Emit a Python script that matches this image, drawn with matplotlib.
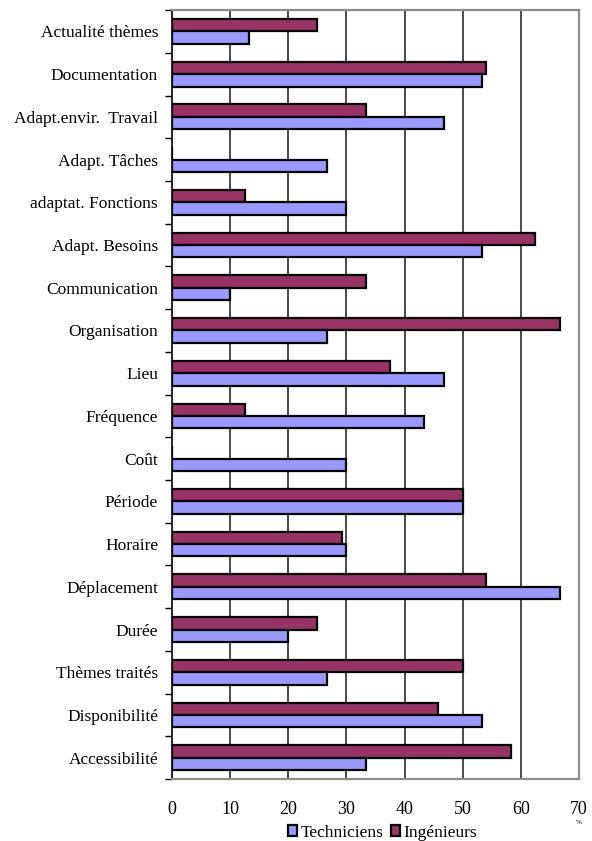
import numpy as np
import matplotlib.pyplot as plt
from matplotlib.patches import Patch

categories = [
    "Actualité thèmes", "Documentation", "Adapt.envir.  Travail", "Adapt. Tâches",
    "adaptat. Fonctions", "Adapt. Besoins", "Communication", "Organisation",
    "Lieu", "Fréquence", "Coût", "Période", "Horaire", "Déplacement",
    "Durée", "Thèmes traités", "Disponibilité", "Accessibilité",
]
techniciens = [13.3, 53.3, 46.7, 26.7, 30.0, 53.3, 10.0, 26.7, 46.7,
               43.3, 30.0, 50.0, 30.0, 66.7, 20.0, 26.7, 53.3, 33.3]
ingenieurs = [25.0, 54.0, 33.3, 0.0, 12.5, 62.5, 33.3, 66.7, 37.5,
              12.5, 0.0, 50.0, 29.2, 54.0, 25.0, 50.0, 45.8, 58.3]
xticks = [0, 10, 20, 30, 40, 50, 60, 70]

TECH = "#9999FF"
ING = "#993366"
GRAY = "#8c8c8c"

plt.rcParams["font.family"] = ["Liberation Serif", "DejaVu Serif"]

fig = plt.figure(figsize=(5.92, 8.41), dpi=100)
ax = fig.add_axes([0.2905, 0.0737, 0.6875, 0.9143])

y = np.arange(len(categories))
h = 0.29
ax.barh(y - h / 2, ingenieurs, height=h, color=ING, edgecolor="black", lw=1.6, zorder=3)
ax.barh(y + h / 2, techniciens, height=h, color=TECH, edgecolor="black", lw=1.6, zorder=3)

ax.set_xlim(0, 70)
ax.set_ylim(len(categories) - 0.5, -0.5)
ax.set_xticks(xticks)
ax.set_xticklabels([str(v) for v in xticks])
ax.tick_params(axis="x", length=0, pad=16, labelsize=13)

# category labels centred, tick marks on boundaries
ax.set_yticks(y)
ax.set_yticklabels(categories, fontsize=12.5)
ax.tick_params(axis="y", which="major", length=0, pad=10)
ax.set_yticks(np.arange(len(categories) + 1) - 0.5, minor=True)
ax.tick_params(axis="y", which="minor", length=5, width=1, direction="out")

for v in xticks[1:-1]:
    ax.axvline(v, color="#1a1a1a", lw=1.1, zorder=1)

for s in ["top", "right", "bottom"]:
    ax.spines[s].set_color(GRAY)
    ax.spines[s].set_linewidth(1.6)
ax.spines["left"].set_color("black")
ax.spines["left"].set_linewidth(1.2)

fig.text(0.978, 0.022, "%", fontsize=5, ha="center", va="center")

handles = [Patch(facecolor=TECH, edgecolor="black", lw=1.6, label="Techniciens"),
           Patch(facecolor=ING, edgecolor="black", lw=1.6, label="Ingénieurs")]
fig.legend(handles=handles, loc="center", bbox_to_anchor=(0.646, 0.01), ncol=2,
           frameon=False, fontsize=12.5, handlelength=0.55, handleheight=0.55,
           handletextpad=0.2, columnspacing=0.4, borderpad=0)

fig.savefig("out.png", dpi=100)
